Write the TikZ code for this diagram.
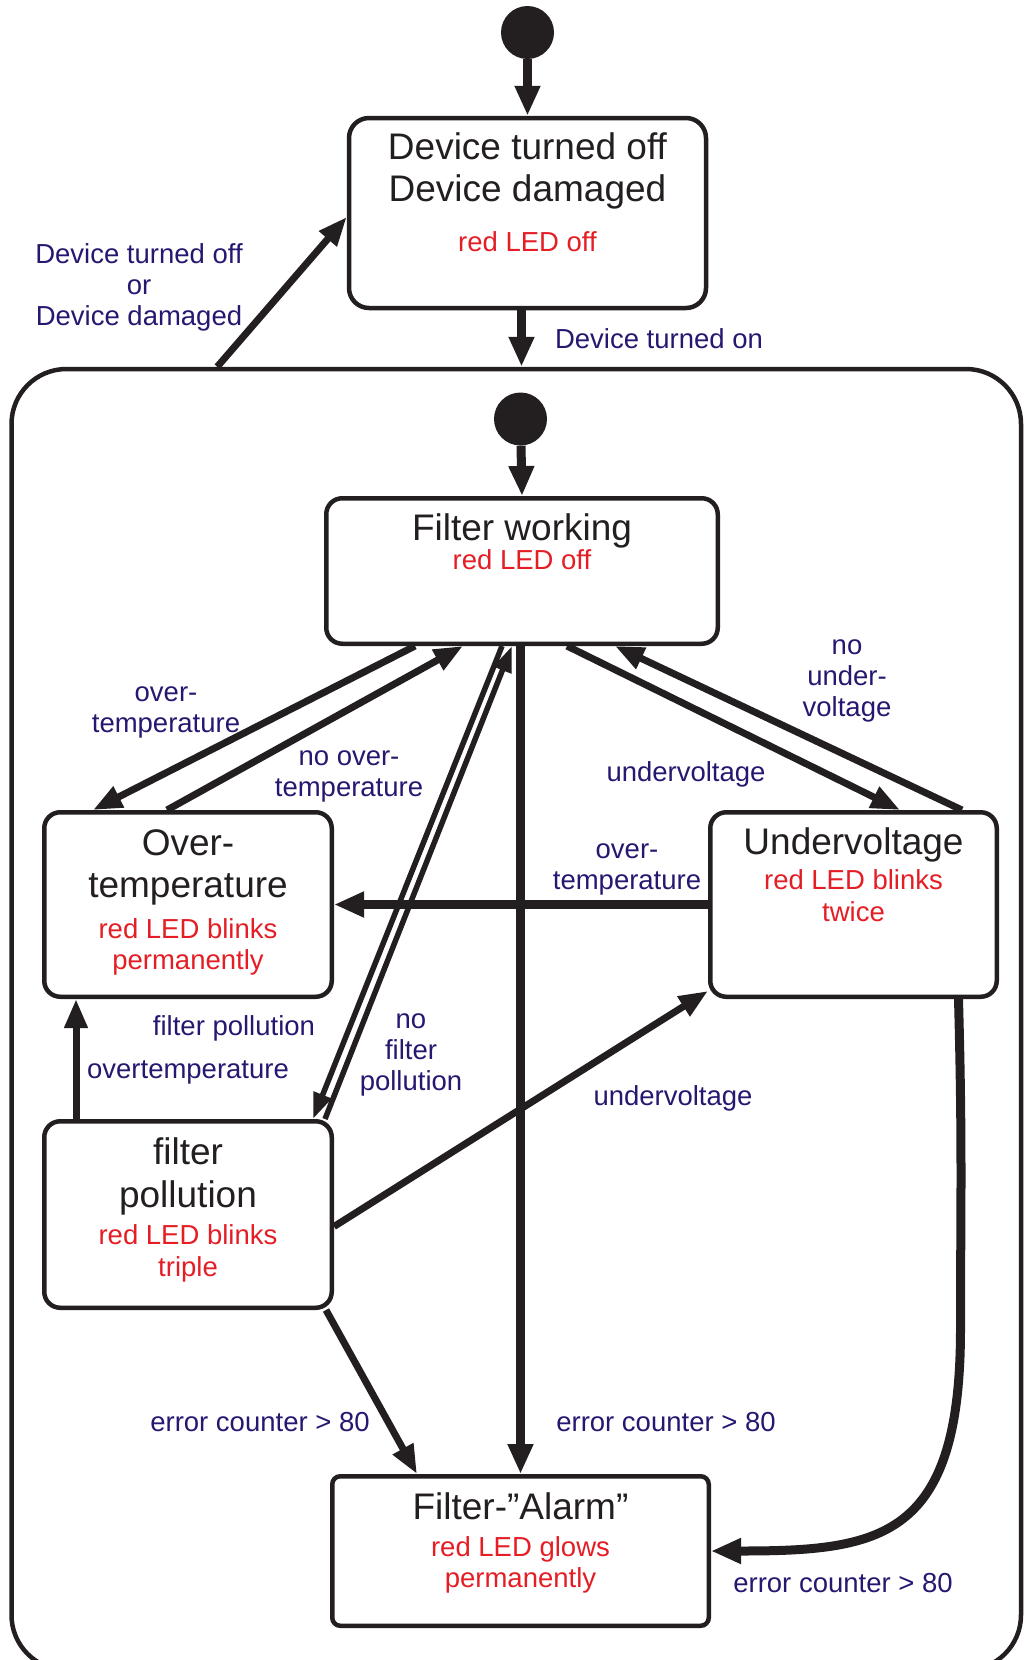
\documentclass[tikz,border=0pt]{standalone}
\usepackage{fontspec}
\setmainfont{Liberation Sans}
\usetikzlibrary{arrows.meta, positioning, calc}
\definecolor{LineBlack}{RGB}{35, 31, 32}
\definecolor{LedRed}{RGB}{228, 30, 36}
\definecolor{EventBlue}{RGB}{38, 24, 112}
\newcommand{\led}[1]{{\color{LedRed}\fontsize{27.5}{31}\selectfont #1}}

\begin{document}
\begin{tikzpicture}[x=1pt, y=-1pt, every node/.style={font=\fontsize{27.5}{31}\selectfont},
    state/.style={draw=LineBlack, line width=4.5pt, rounded corners=16pt, inner sep=0pt},
    statetext/.style={anchor=north, align=center, inner sep=0pt, text=LineBlack, font=\fontsize{37}{42}\selectfont},
    event/.style={align=center, inner sep=0pt, text=EventBlue},
    initial/.style={circle, fill=LineBlack, minimum size=53pt, inner sep=0pt},
    bigtrans/.style={-{Triangle[length=30pt, width=24pt]}, line width=9pt, draw=LineBlack},
    trans/.style={-{Triangle[length=29pt, width=22pt]}, line width=7pt, draw=LineBlack},
    slimtrans/.style={-{Triangle[length=26pt, width=18pt]}, line width=5.5pt, draw=LineBlack}]
    \useasboundingbox (0,0) rectangle (1023,1660);
    % outer state and the off state
    \node[draw=LineBlack, line width=4.5pt, rounded corners=55pt, minimum width=1009.5pt, minimum height=1301pt] (active) at (516.25,1019.5) {};
    \node[initial] (init) at (527.5,32.5) {};
    \node[state, rounded corners=20pt, minimum width=357pt, minimum height=190pt,
        label={[statetext, yshift=-16.5pt]north:Device turned off\\Device damaged\\[8pt]\led{red LED off}}] (dev) at (527.5,213) {};
    % states inside
    \node[initial] (substart) at (520.5,419) {};
    \node[state, minimum width=391.5pt, minimum height=145.5pt,
        label={[statetext, yshift=-17pt]north:Filter working\\[-13pt]\led{red LED off}}] (fw) at (522,571) {};
    \node[state, minimum width=287.5pt, minimum height=184.5pt,
        label={[statetext, yshift=-19pt]north:Over-\\temperature\\[-1pt]\led{red LED blinks}\\[-11pt]\led{permanently}}] (ot) at (188,904.5) {};
    \node[state, minimum width=286.5pt, minimum height=184.5pt,
        label={[statetext, yshift=-17pt]north:Undervoltage\\[-7pt]\led{red LED blinks}\\[-10pt]\led{twice}}] (uv) at (853.5,904.5) {};
    \node[state, minimum width=287.5pt, minimum height=186.5pt,
        label={[statetext, yshift=-18pt]north:filter\\[1pt]pollution\\[-5pt]\led{red LED blinks}\\[-10pt]\led{triple}}] (fp) at (188,1214.5) {};
    \node[state, rounded corners=8pt, minimum width=376.5pt, minimum height=149.5pt,
        label={[statetext, yshift=-18.5pt]north:Filter-”Alarm”\\[-5pt]\led{red LED glows}\\[-11pt]\led{permanently}}] (alarm) at (520.5,1551) {};
    % transitions
    \draw[bigtrans] (init) -- (dev.north);
    \draw[bigtrans] ([xshift=-6pt]dev.south) -- ([xshift=-6pt]dev.south |- active.north);
    \draw[trans] ([xshift=-299pt]active.north) -- ([yshift=-4pt]dev.west);
    \draw[bigtrans] (substart) -- (fw.north);
    \draw[trans] ([xshift=-107pt]fw.south) -- ([xshift=-95pt]ot.north);
    \draw[trans] ([xshift=-21pt]ot.north) -- ([xshift=-59pt]fw.south);
    \draw[trans] ([xshift=45pt]fw.south) -- ([xshift=46.5pt]uv.north);
    \draw[trans] ([xshift=108.5pt]uv.north) -- ([xshift=93pt]fw.south);
    \draw[slimtrans] ([xshift=-20pt]fw.south) -- ([xshift=125pt]fp.north);
    \draw[slimtrans] ([xshift=137pt]fp.north) -- ([xshift=-10pt]fw.south);
    \draw[bigtrans] ([xshift=-1.5pt]fw.south) -- (alarm.north);
    \draw[bigtrans] (uv.west) -- (ot.east);
    \draw[trans] ([xshift=-112pt]fp.north) -- ([xshift=-112pt]ot.south);
    \draw[trans] ([yshift=-12pt]fp.east) -- ([yshift=8pt]uv.south west);
    \draw[trans] ([xshift=138pt]fp.south) -- ([xshift=-103.5pt]alarm.north);
    \draw[bigtrans] ([xshift=105pt]uv.south) .. controls +(4,150) and +(0,-120) .. ++(2,330) .. controls +(0,210) and +(170,0) .. (alarm.east);
    % events
    \node[event] (ev-off) at (139,287) {Device turned off\\or\\Device damaged};
    \node[event] (ev-on) at (659,339) {Device turned on};
    \node[event] (ev-ot1) at (166,712) {over-\\temperature};
    \node[event] (ev-not) at (349,776) {no over-\\temperature};
    \node[event] (ev-nuv) at (847,681) {no\\under-\\voltage};
    \node[event] (ev-uv1) at (686,774) {undervoltage};
    \node[event] (ev-ot2) at (627,869.5) {over-\\temperature};
    \node[event] (ev-fp) at (234,1028) {filter pollution};
    \node[event] (ev-ot3) at (188,1072) {overtemperature};
    \node[event] (ev-nfp) at (411,1055) {no\\filter\\pollution};
    \node[event] (ev-uv2) at (673,1098) {undervoltage};
    \node[event] (ev-err1) at (260,1422) {error counter > 80};
    \node[event] (ev-err2) at (666,1422) {error counter > 80};
    \node[event] (ev-err3) at (843,1583) {error counter > 80};
\end{tikzpicture}
\end{document}
